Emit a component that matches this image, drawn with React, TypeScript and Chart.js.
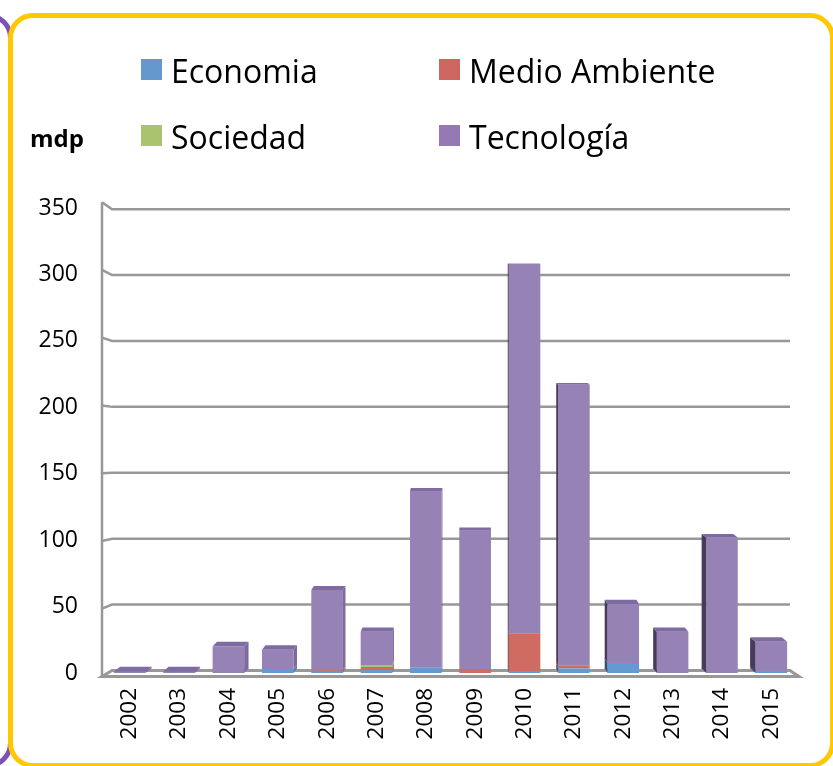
import React, { useEffect, useRef } from "react";
import { Chart, registerables } from "chart.js";

Chart.register(...registerables);

const years = ["2002","2003","2004","2005","2006","2007","2008","2009","2010","2011","2012","2013","2014","2015"];
const economia = [0, 0, 0, 3, 1, 2, 4, 0, 1.5, 3.5, 7.5, 0, 0, 1];
const medioAmbiente = [0, 0, 0, 0, 1, 2.5, 0, 3, 28.5, 2, 0, 0, 0, 0];
const sociedad = [0, 0, 0, 0, 0, 1.5, 0, 0, 0, 0, 0, 0, 0, 0];
const tecnologia = [1, 1, 20, 14.5, 60.5, 25, 133, 104, 278, 211.5, 44.5, 31, 102, 22.5];
const yTicks = [0, 50, 100, 150, 200, 250, 300, 350];

const seriesNames = ["Economia", "Medio Ambiente", "Sociedad", "Tecnología"];
const barColors = ["#639ad2", "#cf6b61", "#a9c46e", "#9782b5"];
const legendColors = ["#6598cd", "#cd665f", "#aac36f", "#9479b4"];
const lightSide = ["#527fb0", "#ad574f", "#8ca35a", "#7d69a0"];
const darkSide = ["#34506e", "#6e3530", "#58683a", "#473b5c"];
const topFace = ["#5584b8", "#b65a52", "#93ab5e", "#7f6ba3"];

const FONT = "'Open Sans', Lato, sans-serif";
const VPX = 470, VPY = 230, KX = 0.018, KY = 0.011;

const wallPlugin = {
  id: "wall3d",
  beforeDatasetsDraw(chart: any) {
    const ctx = chart.ctx;
    const ys = chart.scales.y;
    const frontX = 102, backX = 112, rightX = 790;
    ctx.save();
    ctx.strokeStyle = "#989898";
    ctx.lineWidth = 2.5;
    const yb = (v: number) => {
      const yf = ys.getPixelForValue(v);
      return yf + (VPY - yf) * 0.008 + 1;
    };
    const yFront = (v: number) => yb(v) + 6 - 13 * v / 350;
    yTicks.forEach((v) => {
      if (v === 0) return;
      ctx.beginPath();
      ctx.moveTo(frontX, yFront(v));
      ctx.lineTo(backX, yb(v));
      ctx.lineTo(rightX, yb(v));
      ctx.stroke();
    });
    ctx.beginPath();
    ctx.moveTo(frontX, yFront(350));
    ctx.lineTo(frontX, yFront(0));
    ctx.stroke();
    const f0 = yFront(0);
    const b0 = yb(0);
    ctx.lineWidth = 3;
    ctx.beginPath();
    ctx.moveTo(frontX, f0);
    ctx.lineTo(backX, b0);
    ctx.lineTo(rightX, b0);
    ctx.lineTo(rightX + 9, f0);
    ctx.closePath();
    ctx.stroke();
    ctx.restore();
  },
};

const bar3dPlugin = {
  id: "bar3d",
  afterDatasetsDraw(chart: any) {
    const ctx = chart.ctx;
    const n = chart.data.labels.length;
    ctx.save();
    for (let j = 0; j < n; j++) {
      let topIdx = -1;
      chart.data.datasets.forEach((ds: any, i: number) => {
        if (ds.data[j] > 0) topIdx = i;
      });
      chart.data.datasets.forEach((ds: any, i: number) => {
        if (!(ds.data[j] > 0)) return;
        const el = chart.getDatasetMeta(i).data[j];
        const p = el.getProps(["x", "y", "base", "width"], true);
        const xl = p.x - p.width / 2;
        const xr = p.x + p.width / 2;
        const dx = (VPX - p.x) * KX;
        const dyT = (VPY - p.y) * KY;
        const dyB = (VPY - p.base) * KY;
        ctx.beginPath();
        if (dx > 0) {
          ctx.moveTo(xr, p.y);
          ctx.lineTo(xr + dx, p.y + dyT);
          ctx.lineTo(xr + dx, p.base + dyB);
          ctx.lineTo(xr, p.base);
          ctx.fillStyle = lightSide[i];
        } else {
          ctx.moveTo(xl, p.y);
          ctx.lineTo(xl + dx, p.y + dyT);
          ctx.lineTo(xl + dx, p.base + dyB);
          ctx.lineTo(xl, p.base);
          ctx.fillStyle = darkSide[i];
        }
        ctx.closePath();
        ctx.fill();
        if (i === topIdx) {
          ctx.beginPath();
          ctx.moveTo(xl, p.y);
          ctx.lineTo(xr, p.y);
          ctx.lineTo(xr + dx, p.y + dyT);
          ctx.lineTo(xl + dx, p.y + dyT);
          ctx.closePath();
          ctx.fillStyle = topFace[i];
          ctx.fill();
        }
      });
    }
    ctx.restore();
  },
};

function ChartView() {
  const ref = useRef<HTMLCanvasElement | null>(null);
  useEffect(() => {
    if (!ref.current) return;
    const series = [economia, medioAmbiente, sociedad, tecnologia];
    const chart = new Chart(ref.current, {
      type: "bar",
      data: {
        labels: years,
        datasets: series.map((d, i) => ({
          label: seriesNames[i],
          data: d,
          backgroundColor: barColors[i],
          borderWidth: 0,
          barPercentage: 0.64,
          categoryPercentage: 1,
        })),
      },
      options: {
        animation: false,
        responsive: true,
        maintainAspectRatio: false,
        layout: { padding: { top: 208, right: 37, left: 0, bottom: 0 } },
        plugins: { legend: { display: false }, tooltip: { enabled: false } },
        scales: {
          x: {
            stacked: true,
            grid: { display: false, drawTicks: false },
            border: { display: false },
            ticks: {
              minRotation: 90,
              maxRotation: 90,
              padding: 15,
              color: "#000",
              font: { family: FONT, size: 22.5 },
            },
            afterFit: (s: any) => { s.height = 766 - 673; },
          },
          y: {
            stacked: true,
            min: 0,
            max: 350,
            grid: { display: false, drawTicks: false },
            border: { display: false },
            ticks: {
              stepSize: 50,
              padding: 27,
              color: "#000",
              font: { family: FONT, size: 23 },
            },
            afterFit: (s: any) => { s.width = 105; },
          },
        },
      },
      plugins: [wallPlugin, bar3dPlugin],
    } as any);
    return () => chart.destroy();
  }, []);
  return (
    <div style={{ position: "absolute", left: 0, top: 0, width: 833, height: 766 }}>
      <canvas ref={ref} />
    </div>
  );
}

const legendPos = [
  { x: 141, y: 59 },
  { x: 439, y: 59 },
  { x: 141, y: 125 },
  { x: 439, y: 125 },
];

export default function App() {
  const fs = 32;
  return (
    <div style={{ position: "fixed", left: 0, top: 0, width: 833, height: 766, overflow: "hidden", background: "#fff" }}>
      <div style={{ position: "absolute", left: -300, top: 13, width: 313, height: 755, boxSizing: "border-box", border: "5px solid #7f4fb8", borderRadius: 25 }} />
      <div style={{ position: "absolute", left: 8, top: 13, width: 827, height: 755, boxSizing: "border-box", border: "5px solid #ffc800", borderRadius: 25, background: "#fff" }} />
      <ChartView />
      {seriesNames.map((name, i) => (
        <React.Fragment key={name}>
          <div style={{ position: "absolute", left: legendPos[i].x, top: legendPos[i].y, width: 21, height: 21, background: legendColors[i] }} />
          <div style={{ position: "absolute", left: legendPos[i].x + 30, top: legendPos[i].y + 24 - fs * 0.888, fontFamily: FONT, fontSize: fs, lineHeight: 1, color: "#000", whiteSpace: "nowrap" }}>{name}</div>
        </React.Fragment>
      ))}
      <div style={{ position: "absolute", left: 30, top: 147 - 24 * 0.888, fontFamily: FONT, fontWeight: "bold", fontSize: 24, lineHeight: 1, color: "#000" }}>mdp</div>
    </div>
  );
}
